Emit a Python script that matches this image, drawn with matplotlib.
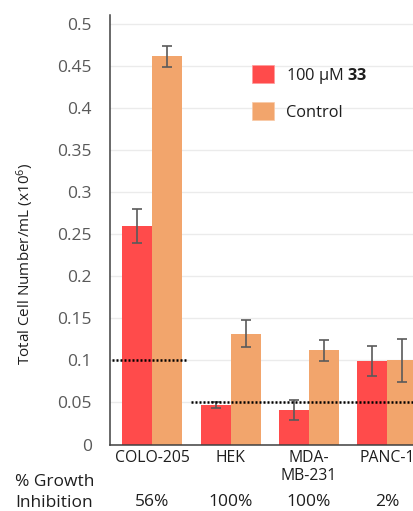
import matplotlib
matplotlib.use("Agg")
import matplotlib.pyplot as plt
from matplotlib.patches import Patch
from matplotlib import transforms
import numpy as np

categories = ["COLO-205", "HEK", "MDA-\nMB-231", "PANC-1"]
treated = [0.260, 0.047, 0.041, 0.099]
treated_err = [0.020, 0.004, 0.012, 0.018]
control = [0.462, 0.132, 0.112, 0.100]
control_err = [0.0125, 0.016, 0.0125, 0.026]
inhibition = ["56%", "100%", "100%", "2%"]
yticks = [0, 0.05, 0.1, 0.15, 0.2, 0.25, 0.3, 0.35, 0.4, 0.45, 0.5]
ytick_labels = ["0", "0.05", "0.1", "0.15", "0.2", "0.25", "0.3", "0.35", "0.4", "0.45", "0.5"]
ref_lines = [(0.10, -0.51, 0.46), (0.05, 0.50, 3.6)]

plt.rcParams['font.family'] = ['Open Sans', 'DejaVu Sans']
plt.rcParams['mathtext.fontset'] = 'custom'
plt.rcParams['mathtext.rm'] = 'Open Sans'
plt.rcParams['mathtext.bf'] = 'Open Sans:bold'
plt.rcParams['mathtext.default'] = 'regular'

W, H = 414, 511
fig = plt.figure(figsize=(W / 100, H / 100), dpi=100)
ax = fig.add_axes([110 / W, (H - 444.5) / H, 319.5 / W, 429.5 / H])

red = "#FF4B4B"
orange = "#F2A56C"
errc = "#5a5a5a"
txt = "#1e1e1e"
x = np.arange(len(categories))
bw = 0.383
ax.bar(x - bw / 2, treated, bw, color=red, zorder=2)
ax.bar(x + bw / 2, control, bw, color=orange, zorder=2)
ax.errorbar(x - bw / 2, treated, yerr=treated_err, fmt='none', ecolor=errc,
            elinewidth=1.2, capsize=3.6, capthick=1.2, zorder=3)
ax.errorbar(x + bw / 2, control, yerr=control_err, fmt='none', ecolor=errc,
            elinewidth=1.2, capsize=3.6, capthick=1.2, zorder=3)

for yv, x0, x1 in ref_lines:
    ax.plot([x0, x1], [yv, yv], color="black", lw=1.8, linestyle=(0, (0.8, 0.8)),
            zorder=4, clip_on=False)

ax.set_xlim(-0.54, 3.54)
ax.set_ylim(0, 0.511)
ax.set_yticks(yticks)
ax.set_yticklabels(ytick_labels)
ax.set_xticks(x)
ax.set_xticklabels(categories, fontsize=11.3, color=txt, linespacing=1.2)
ax.tick_params(axis='y', length=0, pad=13, labelsize=12.5, labelcolor="#595959")
ax.tick_params(axis='x', length=0, pad=4)
ax.grid(axis='y', color="#ebebeb", lw=1, zorder=0)
ax.set_axisbelow(True)
for s in ["top", "right"]:
    ax.spines[s].set_visible(False)
ax.spines["left"].set_color("#404040")
ax.spines["bottom"].set_color("#404040")
ax.spines["left"].set_linewidth(1.1)
ax.spines["bottom"].set_linewidth(1.1)

fig.text(25 / W, 1 - 264 / H, "Total Cell Number/mL (x10$^{6}$)", rotation=90,
         ha="center", va="center", fontsize=11, color=txt)

fig.text(15 / W, 1 - 482 / H, "% Growth", ha="left", va="center", fontsize=12.5, color=txt)
fig.text(15 / W, 1 - 503 / H, "Inhibition", ha="left", va="center", fontsize=12.5, color=txt)
tr = transforms.blended_transform_factory(ax.transData, fig.transFigure)
for xi, lab in zip(x, inhibition):
    ax.text(xi, 1 - 502 / H, lab, transform=tr, ha="center", va="center",
            fontsize=12.5, color=txt)

handles = [Patch(facecolor=red, edgecolor="#ff9a9a", lw=0.5),
           Patch(facecolor=orange, edgecolor="#f8c9a6", lw=0.5)]
leg = fig.legend(handles, ["100 µM $\\mathbf{33}$", "Control"], loc="upper left",
                 bbox_to_anchor=(252 / W, 1 - 65 / H), frameon=False, fontsize=11.8,
                 handlelength=1.35, handleheight=1.35, handletextpad=0.7,
                 labelspacing=1.0, borderpad=0, borderaxespad=0)
for t in leg.get_texts():
    t.set_color(txt)

fig.savefig("out.png", dpi=100)
